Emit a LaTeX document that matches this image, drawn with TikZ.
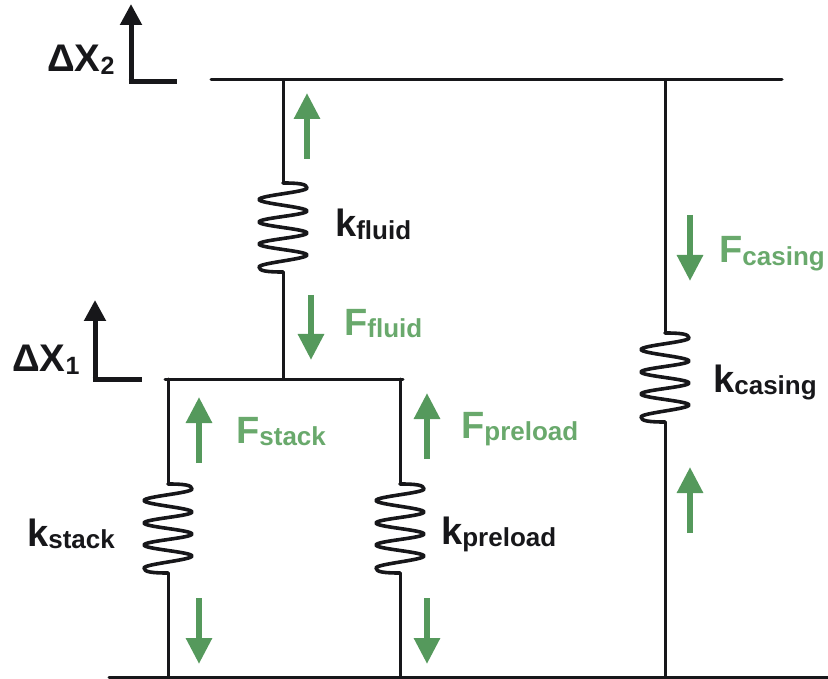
\documentclass[tikz,border=0pt]{standalone}
\usepackage{fontspec}
\setmainfont{Liberation Sans}[BoldFont={Liberation Sans Bold}]
\usetikzlibrary{arrows.meta}
\definecolor{fgreen}{HTML}{55995C}
\definecolor{tgreen}{HTML}{69A96C}
\definecolor{ink}{HTML}{17171A}
\newcommand{\lab}[2]{{\bfseries\fontsize{38}{38}\selectfont #1\raisebox{-2.5pt}{\fontsize{26}{26}\selectfont #2}}}
\newcommand{\dlab}[2]{{\bfseries\fontsize{38.5}{38.5}\selectfont Δ#1\raisebox{-3pt}{\fontsize{25}{25}\selectfont #2}}}
\tikzset{
  wire/.style={draw=ink,line width=3pt,line cap=round,line join=round},
  force/.style={draw=fgreen,line width=6pt,-{Triangle[width=25pt,length=26pt]}},
  motion/.style={draw=ink,line width=5pt,-{Triangle[width=21pt,length=21pt]}},
  axisline/.style={draw=ink,line width=5pt},
  klabel/.style={anchor=base west,inner sep=0pt,text=ink},
  flabel/.style={anchor=base west,inner sep=0pt,text=tgreen},
  coil/.pic={
    \draw[wire,line width=3.6pt] (0,0) .. controls (16,0) and (24,1) .. (24,5)
      .. controls (24,9) and (-24,12.5) .. (-24,16.5)
      .. controls (-24,20.5) and (24,24) .. (24,28)
      .. controls (24,32) and (-24,35) .. (-24,39)
      .. controls (-24,43) and (24,46) .. (24,50)
      .. controls (24,54) and (-24,57) .. (-24,61)
      .. controls (-24,65) and (24,68) .. (24,72)
      .. controls (24,76) and (-24,80) .. (-24,84)
      .. controls (-24,88) and (-16,89) .. (0,89);
  }
}
\begin{document}
\begin{tikzpicture}[x=1pt,y=-1pt]
\useasboundingbox (0,0) rectangle (828,679);
% bars
\coordinate (topL) at (211,80);   \coordinate (topR) at (782,80);
\coordinate (midL) at (165,379);  \coordinate (midR) at (403,379);
\coordinate (botL) at (109,677);  \coordinate (botR) at (828,677);
\draw[wire] (topL) -- (topR);
\draw[wire] (midL) -- (midR);
\draw[wire] (botL) -- (botR);
% fluid
\coordinate (fluidA) at (283,80);  \coordinate (fluidB) at (283,183);
\coordinate (fluidC) at (283,272); \coordinate (fluidD) at (283,379);
\draw[wire] (fluidA) -- (fluidB);
\pic at (fluidB) {coil};
\draw[wire] (fluidC) -- (fluidD);
% stack
\coordinate (stackA) at (168,379); \coordinate (stackB) at (168,484);
\coordinate (stackC) at (168,573); \coordinate (stackD) at (168,677);
\draw[wire] (stackA) -- (stackB);
\pic at (stackB) {coil};
\draw[wire] (stackC) -- (stackD);
% preload
\coordinate (preA) at (400,379); \coordinate (preB) at (400,484);
\coordinate (preC) at (400,573); \coordinate (preD) at (400,677);
\draw[wire] (preA) -- (preB);
\pic at (preB) {coil};
\draw[wire] (preC) -- (preD);
% casing
\coordinate (casA) at (665,80);  \coordinate (casB) at (665,333);
\coordinate (casC) at (665,422); \coordinate (casD) at (665,677);
\draw[wire] (casA) -- (casB);
\pic at (casB) {coil};
\draw[wire] (casC) -- (casD);
% force arrows
\coordinate (f1a) at (307,159); \coordinate (f1b) at (307,93);
\coordinate (f2a) at (311,295); \coordinate (f2b) at (311,360);
\coordinate (f3a) at (690,215); \coordinate (f3b) at (690,281);
\coordinate (f4a) at (690,533); \coordinate (f4b) at (690,467);
\coordinate (f5a) at (199,463); \coordinate (f5b) at (199,397);
\coordinate (f6a) at (199,598); \coordinate (f6b) at (199,664);
\coordinate (f7a) at (427,459); \coordinate (f7b) at (427,393);
\coordinate (f8a) at (427,598); \coordinate (f8b) at (427,664);
\foreach \p in {f1,f2,f3,f4,f5,f6,f7,f8} \draw[force] (\p a) -- (\p b);
% displacement axes
\coordinate (x2tip) at (131,4);  \coordinate (x2c) at (131,82);  \coordinate (x2e) at (177,82);
\coordinate (x1tip) at (95,300); \coordinate (x1c) at (95,379);  \coordinate (x1e) at (142,379);
\draw[motion] (x2c) -- (x2tip);
\draw[axisline] ([xshift=-2.5pt]x2c) -- (x2e);
\draw[motion] (x1c) -- (x1tip);
\draw[axisline] ([xshift=-2.5pt]x1c) -- (x1e);
% labels
\node[klabel] (dx2) at (47,72) {\dlab{X}{2}};
\node[klabel] (dx1) at (12,371) {\dlab{X}{1}};
\node[klabel] (kfluid) at (335,237) {\lab{k}{fluid}};
\node[klabel] (kcasing) at (713,392) {\lab{k}{casing}};
\node[klabel] (kstack) at (27,546) {\lab{k}{stack}};
\node[klabel] (kpreload) at (441,544) {\lab{k}{preload}};
\node[flabel] (ffluid) at (344,335) {\lab{F}{fluid}};
\node[flabel] (fcasing) at (719,263) {\lab{F}{casing}};
\node[flabel] (fstack) at (236,443) {\lab{F}{stack}};
\node[flabel] (fpreload) at (461,438) {\lab{F}{preload}};
\end{tikzpicture}
\end{document}
